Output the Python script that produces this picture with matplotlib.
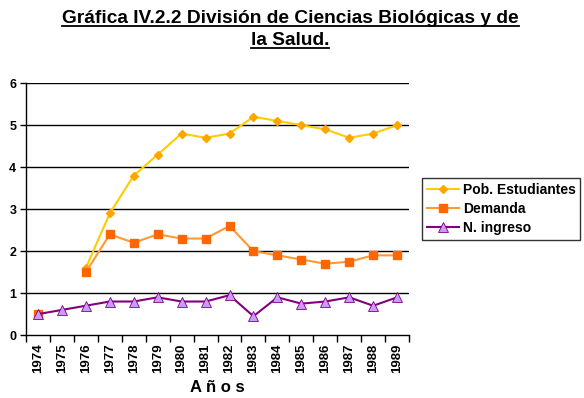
import matplotlib
matplotlib.use('Agg')
import matplotlib.pyplot as plt
import numpy as np
from matplotlib.lines import Line2D

plt.rcParams['font.family'] = ['Liberation Sans', 'DejaVu Sans']

years = ['1974', '1975', '1976', '1977', '1978', '1979', '1980', '1981',
         '1982', '1983', '1984', '1985', '1986', '1987', '1988', '1989']
pob_estudiantes = [0.5, np.nan, 1.6, 2.9, 3.8, 4.3, 4.8, 4.7,
                   4.8, 5.2, 5.1, 5.0, 4.9, 4.7, 4.8, 5.0]
demanda = [0.5, np.nan, 1.5, 2.4, 2.2, 2.4, 2.3, 2.3,
           2.6, 2.0, 1.9, 1.8, 1.7, 1.75, 1.9, 1.9]
nuevo_ingreso = [0.5, 0.6, 0.7, 0.8, 0.8, 0.9, 0.8, 0.8,
                 0.95, 0.45, 0.9, 0.75, 0.8, 0.9, 0.7, 0.9]

fig = plt.figure(figsize=(5.84, 3.98), dpi=100)
ax = fig.add_axes([0.0445, 0.158, 0.656, 0.633])

x = np.arange(len(years))
ax.plot(x, pob_estudiantes, color='#FFCC00', lw=1.5, marker='D', ms=4,
        mfc='#FFA500', mec='#FFA500', label='Pob. Estudiantes', zorder=3)
ax.plot(x, demanda, color='#FF9933', lw=1.5, marker='s', ms=6,
        mfc='#FF6600', mec='#FF6600', label='Demanda', zorder=4)
ax.plot(x, nuevo_ingreso, color='#800080', lw=1.5, marker='^', ms=7,
        mfc='#CC99FF', mec='#800080', mew=0.6, label='N. ingreso', zorder=5)

ax.set_xlim(-0.5, len(years) - 0.5)
ax.set_ylim(0, 6)
ax.set_yticks(range(7))
ax.set_yticklabels([str(i) for i in range(7)], fontweight='bold', fontsize=9)
for y in range(1, 7):
    ax.axhline(y, color='black', lw=1, zorder=1)

ax.set_xticks(x)
ax.set_xticklabels(years, rotation=90, fontweight='bold', fontsize=9.5)
ax.set_xticks(np.arange(-0.5, len(years)), minor=True)
ax.tick_params(axis='x', which='major', length=0, pad=6)
ax.tick_params(axis='x', which='minor', length=5, direction='out', width=1)
ax.tick_params(axis='y', length=4, direction='out', width=1, pad=3)

for side in ['top', 'right']:
    ax.spines[side].set_visible(False)
for side in ['left', 'bottom']:
    ax.spines[side].set_linewidth(1)

ax.set_xlabel('A ñ o s', fontsize=12, fontweight='bold', labelpad=5)

leg = ax.legend(loc='center left', bbox_to_anchor=(1.015, 0.5), frameon=True,
                fancybox=False, edgecolor='black',
                prop={'weight': 'bold', 'size': 10}, handlelength=2.3,
                handletextpad=0.3, borderpad=0.35, labelspacing=0.35)
leg.get_frame().set_linewidth(1)

t1 = fig.text(0.497, 0.953, 'Gráfica IV.2.2 División de Ciencias Biológicas y de',
              ha='center', va='center', fontsize=13.8, fontweight='bold')
t2 = fig.text(0.497, 0.897, 'la Salud.', ha='center', va='center',
              fontsize=13.8, fontweight='bold')

fig.canvas.draw()
renderer = fig.canvas.get_renderer()
inv = fig.transFigure.inverted()
for t in (t1, t2):
    bb = t.get_window_extent(renderer).transformed(inv)
    fig.add_artist(Line2D([bb.x0, bb.x1], [bb.y0 + 0.004, bb.y0 + 0.004],
                          transform=fig.transFigure, color='black', lw=1.3))

fig.savefig('out.png', dpi=100)
